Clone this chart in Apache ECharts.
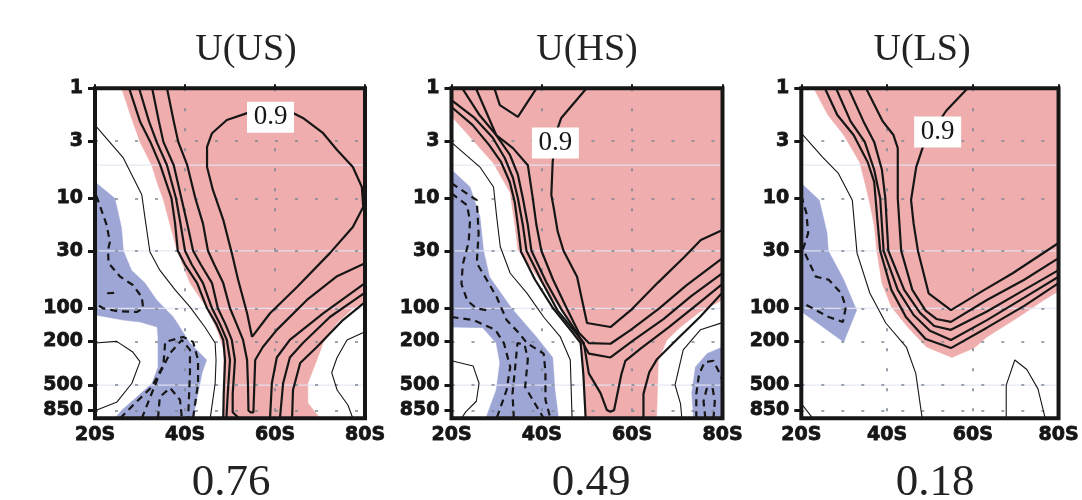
<!DOCTYPE html>
<html><head><meta charset="utf-8">
<script src="https://cdn.jsdelivr.net/npm/echarts@6/dist/echarts.min.js"></script>
<style>html,body{margin:0;padding:0;background:#fff}#c{width:1082px;height:500px}</style>
</head><body><div id="c"></div>
<script>
// ---------- axis / text data ----------
const latTicks = [20, 40, 60, 80];
const pressureTicks = [1, 3, 10, 30, 100, 200, 500, 850];
const faintLevels = [5, 30, 100, 500];
const panelTitles = ['U(US)', 'U(HS)', 'U(LS)'];
const panelScores = ['0.76', '0.49', '0.18'];
const contourLabel = '0.9';

// ---------- panel 1 : U(US)  [lat(S), pressure hPa] ----------
const usRed = [[25.9,1],[80,1],[80,88],[77.4,100],[73.8,136],[70.7,207],[69.3,295],[67.3,480],[67.3,726],[70,1000],[48.4,1000],[48.6,600],[48.6,239],[47.4,167],[44.9,100],[41.1,59],[38.2,29.5],[36.7,17.5],[35.1,10],[34,7.6],[32.6,5],[30,3.07],[28.1,1.86]];
const usBlue = [[20,7.1],[24.4,10],[25.9,18.6],[26.3,30],[28.1,45],[31.1,59],[33.7,84],[37.4,120],[41.1,207],[44.8,295],[43.8,385],[42.7,640],[41.8,1000],[24.4,1000],[26,841],[29.3,640],[32.7,480],[34,342],[34,182],[33.8,148],[30,133],[26.3,128],[20,115]];
const usThin = [
  [[20,2.16],[26.3,4.3],[30.4,9.3],[31.1,15],[32.2,30.6],[34.4,45],[37.8,68],[41.1,97],[44.4,148],[46.7,207],[46.9,295],[46.7,480],[45.6,1000]],
  [[20,207],[24.8,200],[28.4,250],[30,305],[28.2,480],[24.9,710],[20.4,841],[20,870]],
  [[80,163],[76,194],[73.8,280],[72.6,385],[73.8,553],[76.2,757],[77.3,1000]]
];
const usDashed = [
  [[20.3,9.5],[22.6,17.5],[23.3,24.9],[22.9,29.5],[23,38.8],[25.6,51.6],[28.4,61.4],[30.4,79],[30.7,100],[29.3,108],[24.9,106],[21.8,100],[20,90]],
  [[22.7,73],[24.9,72]],
  [[25.6,1000],[28.5,757],[32.6,520],[35.2,328],[35.6,202],[39.6,182],[41.8,202],[42.9,295],[42.9,480],[41.8,1000]],
  [[30.4,1000],[32.9,553],[34.4,390],[36.7,255],[39.3,194],[41.1,239],[41.1,385],[40.7,1000]],
  [[34,1000],[34.4,640],[36.7,530],[38.9,682],[39.3,1000]]
];
const usSolid = [
  [[27.6,1],[30,2],[32.3,3.07],[34.5,5],[37,10],[37.8,17],[38.4,30],[40,40],[42.7,59],[44.9,100],[47,140],[48.5,194],[48.9,295],[48.6,600],[48.5,1000]],
  [[29.8,1],[32,2],[33.7,3.07],[36,5],[38,10],[39,17],[40,30],[41.5,40],[44,59],[46,100],[47.8,140],[49.3,194],[50,295],[49.5,600],[49.2,1000]],
  [[32.7,1],[34.2,2],[35.2,3.07],[37.5,5],[39.2,10],[40.5,17],[41.8,30],[43.5,40],[46,59],[47.3,100],[49,140],[50.4,194],[51.1,295],[50.6,600],[50.6,880],[52,1000]],
  [[36,1],[37.5,2],[38.5,3.07],[40.5,5],[42.3,10],[44,17],[45.1,30],[46.5,40],[48.5,59],[50,100],[51.5,140],[52.9,194],[53.8,295],[54,500],[54.1,850],[54.6,885],[55.2,885],[55.6,850],[55.6,295],[57.3,225],[60.4,157],[67.1,84],[73.8,51],[80,39]],
  [[63.8,1000],[64,553],[65.6,314],[69.3,225],[75.1,128],[80,88]],
  [[61.1,1000],[61.8,480],[63.3,280],[66.2,207],[72.2,120],[80,72]],
  [[58.9,1000],[59.3,480],[60.4,280],[63.3,194],[70.7,111],[80,59]],
  [[54.9,182],[58.9,111],[64.9,64],[72.2,31.5],[77.3,18.2],[79.6,12],[79.3,7.9],[77.3,5.2],[73.8,3.64],[70.7,2.56],[66.2,1.86],[64,1.68],[58.9,1.6],[53.8,1.68],[49.3,1.94],[46,2.56],[44.9,3.4],[44.9,5.2],[46.2,8.4],[48.5,15.7],[50.4,31.5],[51.8,55],[53.8,111],[54.9,182]]
];
const usLabel = [59, 1.83];

// ---------- panel 2 : U(HS) ----------
const hsRed = [[20,1],[80,1],[80,84],[75.1,107],[70.7,148],[67.7,194],[65.8,295],[65.4,1000],[49.6,1000],[48.8,239],[47.3,157],[44.3,104],[41,68],[38,44.9],[34.7,29.5],[34.1,18.2],[33,8.9],[29.3,4.8],[24.2,2.8],[20,1.8]];
const hsBlueL = [[20,5.5],[24.1,7.9],[26.3,14.7],[27.1,30],[28.4,51.6],[33.3,100],[38.8,182],[42.4,280],[42.9,553],[43.7,1000],[27.6,1000],[29.9,553],[30.7,314],[29.9,207],[26.9,150],[20,148]];
const hsBlueR = [[80,225],[76.6,258],[74,342],[73.2,590],[73.6,1000],[80,1000]];
const hsThin = [
  [[20,3.1],[26.3,5.2],[29.3,7.9],[30,14.7],[30.8,27.6],[33,48],[36.7,72.8],[40.4,120],[44.1,182],[46.3,295],[46.7,1000]],
  [[20,300],[24.8,335],[26.1,480],[25.5,700],[23.2,870],[22.2,1000]],
  [[80,135],[75.1,157],[71.3,239],[69.5,498],[70.7,735],[71,1000]]
];
const hsDashed = [
  [[20,7.3],[25.6,10.4],[26,20.7],[25.6,38.9],[27.8,55],[30,79],[32.2,128],[34.9,167],[36.7,207],[40.4,258],[40.8,376],[40.8,682],[41.9,1000]],
  [[20,9],[23.4,11.5],[24.1,16],[23.8,25],[22.5,40],[22.2,60],[23.5,85],[25.5,100],[27.8,104]],
  [[20,120],[24.9,128],[29.7,157],[31.6,207],[33,342],[32.2,553],[30,1000]],
  [[33.8,1000],[33.5,600],[34,380],[34.6,207],[36.2,215],[36.9,290],[36.3,520],[38.9,785],[40.4,1000]],
  [[74.2,1000],[74.2,600],[74.8,400],[76,310],[78,300],[79.5,400],[80,450]],
  [[76.2,1000],[75.8,700],[76.5,540],[77.8,530],[78.3,700],[78,1000]]
];
const hsSolid = [
  [[20,1.48],[24.7,2.16],[28.4,3.3],[31,4.7],[32.9,7.1],[34,10.8],[34.7,17.5],[35.4,30.6],[38.5,55],[42.5,100],[46.5,160],[48.6,207],[49.2,400],[49.7,1000]],
  [[62.5,1000],[62.5,600],[63.8,380],[65.5,290],[70,190],[75,120],[80,72]],
  [[20,1.28],[25.1,1.86],[29.1,2.8],[31.8,4.3],[33.6,6.5],[34.7,10],[35.8,17.5],[36.6,30],[40,57],[43.5,105],[47.5,167],[49.3,207],[50.4,390],[53,590],[54.4,841],[55.2,870],[56,841],[57.6,400],[58.5,300],[62,230],[68,150],[74,95],[80,60]],
  [[22.4,1],[26.2,1.75],[29.9,2.66],[32.9,4],[34.7,6.1],[35.8,10],[36.9,17.5],[37.7,30],[41,58],[44.5,105],[47.8,167],[50.4,258],[55.2,280],[60.4,194],[67,125],[73,78],[80,48]],
  [[25.4,1],[29.9,2.66],[33.6,3.5],[36.9,5],[38,10],[38.8,17.5],[39.9,30],[42.5,55],[45.5,100],[48.2,167],[50.4,207],[55.2,210],[59.7,157],[66,100],[72,62],[80,35]],
  [[49.9,1],[44.3,1.86],[43.2,2.5],[42.4,4.7],[42.1,9.3],[42.6,12],[43.5,20],[44.8,30],[47.8,51.6],[50,136],[55.2,148],[59.7,104],[65.6,59],[71.6,34],[75.2,23.9],[80,19.4]],
  [[29.5,1],[30.7,1.42],[34.7,1.82],[38.8,1]]
];
const hsLabel = [43, 3.15];

// ---------- panel 3 : U(LS) ----------
const lsRed = [[22.9,1],[80,1],[80,70],[76.6,84],[70.7,120],[63.3,182],[60.3,230],[55.1,280],[49.2,225],[44.8,148],[41,97],[38.8,59],[37.6,30],[37,17.5],[35.9,10.8],[34.8,7.1],[33.6,4.7],[29.9,2.66],[26.2,1.75]];
const lsBlue = [[20,7.3],[24.2,10.4],[26,20.7],[26.3,30],[29.9,55],[32.9,104],[29.9,202],[20,107]];
const lsThin = [
  [[20,2.55],[24.9,4.2],[28.6,5.9],[31.9,10.4],[33,31.5],[36,73],[39.7,136],[44.5,225],[46.7,390],[48.2,1000]],
  [[20,735],[22.7,1000]],
  [[67.8,1000],[67.8,500],[69.8,295],[72.6,360],[75.2,540],[76.9,1000]]
];
const lsDashed = [
  [[20,9.5],[21.2,13.7],[21.6,20.7],[20.4,29],[23.4,51.6],[26.4,55],[29.3,73],[30.4,97],[29.7,133],[26.4,120],[20,88]]
];
const lsSolid = [
  [[25.5,1],[28.4,1.75],[32.2,2.66],[35.5,4.7],[37,7.1],[37.7,15],[38.4,30],[41,68],[44.4,120],[49,190],[54.9,230],[63.3,150],[72,95],[80,59]],
  [[28.1,1],[31.5,2],[34.8,3.07],[37,5.5],[38.4,10],[39.2,30],[42.5,68],[46.2,115],[50,160],[54.9,194],[63.3,128],[72,80],[80,51.6]],
  [[31,1],[34.5,2],[37,3.07],[38.8,5.5],[39.6,10],[40.3,30],[44,68],[47.7,110],[51,145],[54.9,157],[63.3,107],[72,68],[80,45]],
  [[35.1,1],[39,2],[41.5,2.66],[42.5,3.5],[42.5,10],[43.3,30],[45.9,68],[49,105],[51.5,125],[54.9,133],[63.3,84],[72,55],[80,35]],
  [[58.8,1],[53.8,1.6],[48.6,3.2],[46.8,5.2],[45.6,10.4],[46.2,17],[47.2,30],[49.7,73],[54.9,104],[62.7,68],[69.3,48],[80,25.5]]
];
const lsLabel = [51.8, 2.5];

// ---------- assembly ----------
const panels = [
  {red:[usRed], blue:[usBlue], thin:usThin, dashed:usDashed, solid:usSolid, label:usLabel},
  {red:[hsRed], blue:[hsBlueL, hsBlueR], thin:hsThin, dashed:hsDashed, solid:hsSolid, label:hsLabel},
  {red:[lsRed], blue:[lsBlue], thin:lsThin, dashed:lsDashed, solid:lsSolid, label:lsLabel}
];
const layout = [
  {left:95, width:270, titleX:246, scoreX:231},
  {left:451.5, width:271, titleX:587, scoreX:591},
  {left:801.3, width:270.5, titleX:922, scoreX:935}
];
const RED = '#efaead', BLUE = '#9ea6d6', INK = '#161616';
const lg = p => Math.log10(p);
const toXY = arr => arr.map(([a, p]) => [a, lg(p)]);
const tickFont = {fontFamily:'DejaVu Sans', fontWeight:'bold', fontSize:19, color:INK,
  textBorderColor:INK, textBorderWidth:0.8};

const grids = [], xAxes = [], yAxes = [], series = [], graphics = [];
panels.forEach((pn, i) => {
  const L = layout[i];
  grids.push({left:L.left, top:88.3, width:L.width, height:330, show:true, z:10,
    borderColor:INK, borderWidth:4, backgroundColor:'transparent'});
  const dots = {show:true, lineStyle:{color:'#7c8894', width:1.6, type:[3,17]}};
  xAxes.push({gridIndex:i, type:'value', min:20, max:80, z:3,
    axisLine:{show:false},
    axisTick:{show:true, inside:true, length:4, customValues:latTicks, lineStyle:{color:INK, width:2}},
    axisLabel:Object.assign({customValues:latTicks, formatter:v => v + 'S', margin:7}, tickFont),
    splitLine:dots});
  yAxes.push({gridIndex:i, type:'value', min:0, max:3, inverse:true, z:3,
    axisLine:{show:false},
    axisTick:{show:true, length:7, customValues:pressureTicks.map(lg), lineStyle:{color:INK, width:3}},
    axisLabel:Object.assign({customValues:pressureTicks.map(lg),
      formatter:v => String(Math.round(Math.pow(10, v))), margin:12}, tickFont),
    splitLine:dots});
  const poly = (arr, color) => {
    const d = toXY(arr);
    series.push({type:'custom', xAxisIndex:i, yAxisIndex:i, z:1, silent:true, animation:false, clip:true,
      data:[d[0]],
      renderItem:(params, api) => ({type:'polygon',
        shape:{points:d.map(pt => api.coord(pt))},
        style:{fill:color, stroke:color, lineWidth:0.5}})});
  };
  pn.red.forEach(r => poly(r, RED));
  pn.blue.forEach(b => poly(b, BLUE));
  faintLevels.forEach(v => series.push({type:'line', xAxisIndex:i, yAxisIndex:i, z:2, silent:true, animation:false,
    data:[[20, lg(v)], [80, lg(v)]], symbol:'none', lineStyle:{color:'rgba(228,228,244,0.9)', width:1.2}}));
  const ln = (arr, style) => series.push({type:'line', xAxisIndex:i, yAxisIndex:i, z:4, silent:true, animation:false,
    clip:true, data:toXY(arr), symbol:'none', showSymbol:false, lineStyle:style});
  pn.thin.forEach(a => ln(a, {color:INK, width:1.1}));
  pn.dashed.forEach(a => ln(a, {color:INK, width:2.2, type:[7,5]}));
  pn.solid.forEach(a => ln(a, {color:INK, width:2.2}));
  series.push({type:'scatter', xAxisIndex:i, yAxisIndex:i, z:6, silent:true, animation:false,
    data:[[pn.label[0], lg(pn.label[1])]], symbol:'rect', symbolSize:[47,31],
    itemStyle:{color:'#fff', opacity:1},
    label:{show:true, position:'inside', formatter:contourLabel, color:INK,
      fontFamily:'Liberation Serif', fontSize:27}});
  graphics.push({type:'text', x:L.titleX, y:50, z:20,
    style:{text:panelTitles[i], fill:'#222', font:'38px "Liberation Serif"', align:'center', verticalAlign:'middle'}});
  graphics.push({type:'text', x:L.scoreX, y:483, z:20,
    style:{text:panelScores[i], fill:'#222', font:'45px "Liberation Serif"', align:'center', verticalAlign:'middle'}});
});

const chart = echarts.init(document.getElementById('c'), null, {renderer:'canvas'});
chart.setOption({
  animation:false,
  backgroundColor:'#fff',
  grid:grids, xAxis:xAxes, yAxis:yAxes, series:series, graphic:graphics
});
</script></body></html>
